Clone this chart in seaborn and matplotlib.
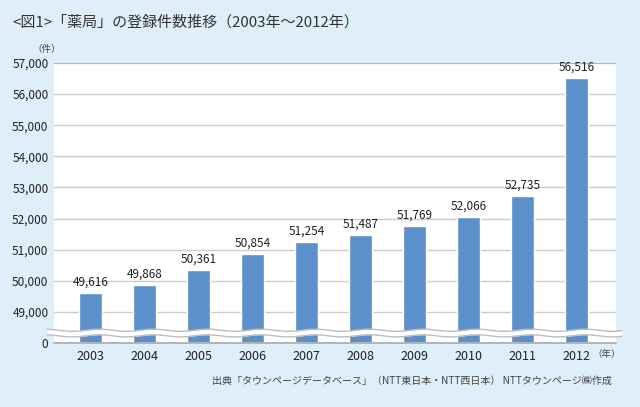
import numpy as np
import pandas as pd
import matplotlib
matplotlib.use("Agg")
import matplotlib.pyplot as plt
import seaborn as sns

# ---- data ----
years = ["2003", "2004", "2005", "2006", "2007", "2008", "2009", "2010", "2011", "2012"]
counts = [49616, 49868, 50361, 50854, 51254, 51487, 51769, 52066, 52735, 56516]
tick_values = [0, 49000, 50000, 51000, 52000, 53000, 54000, 55000, 56000, 57000]
break_base = 48000  # value placed at the axis bottom (axis break between 0 and 49,000)

title = "<図1>「薬局」の登録件数推移（2003年～2012年）"
source = "出典「タウンページデータベース」（NTT東日本・NTT西日本） NTTタウンページ㈱作成"

bg = "#DEEFFA"
bar_color = "#5B90CB"
grid_color = "#CDCDCD"
text_color = "#222222"

sns.set_theme(style="white")
plt.rcParams["font.family"] = ["Noto Sans CJK JP", "DejaVu Sans"]

df = pd.DataFrame({"year": years, "count": counts})
df["plot"] = df["count"] - break_base

fig = plt.figure(figsize=(6.4, 4.07), dpi=100, facecolor=bg)
ax = fig.add_axes([54 / 640, 1 - 343 / 407, (616 - 54) / 640, 280 / 407])
ax.set_facecolor("white")

sns.barplot(data=df, x="year", y="plot", color=bar_color, width=0.43,
            saturation=1, ax=ax, zorder=3)

ax.set_xlim(-0.68, 9.73)
ax.set_ylim(0, tick_values[-1] - break_base)
tick_pos = [0] + [v - break_base for v in tick_values[1:]]
ax.set_yticks(tick_pos)
ax.set_yticklabels([f"{v:,}" for v in tick_values])
ax.set_xlabel("")
ax.set_ylabel("")
for s in ax.spines.values():
    s.set_visible(False)

ax.tick_params(axis="y", length=0, pad=4, labelsize=8.5, labelcolor=text_color)
ax.tick_params(axis="x", length=0, pad=5, labelsize=9, labelcolor=text_color)

for p in tick_pos[1:-1]:
    ax.axhline(p, color=grid_color, lw=1, zorder=1)
ax.axhline(tick_pos[-1], color="#B4B4B4", lw=1.6, zorder=1)
ax.axhline(0, color="#B4B4B4", lw=1.4, zorder=5, clip_on=False)

ax.bar_label(ax.containers[0], labels=[f"{v:,}" for v in counts],
             padding=3, fontsize=8.5, color=text_color)

# axis break band
xs = np.linspace(-0.81, 9.84, 800)
yc = 320 + 35 * np.sin(2 * np.pi * xs / 1.0 + 0.6)
ax.fill_between(xs, yc - 90, yc + 90, color="white", zorder=6, clip_on=False, lw=0)
ax.plot(xs, yc + 90, color="#BDBDBD", lw=1, zorder=7, clip_on=False)
ax.plot(xs, yc - 90, color="#BDBDBD", lw=1, zorder=7, clip_on=False)

fig.text(12 / 640, 1 - 22 / 407, title, fontsize=10.8, color="#333333",
         ha="left", va="center")
fig.text(47 / 640, 1 - 49 / 407, "（件）", fontsize=6.8, color="#444444",
         ha="center", va="center")
fig.text(607 / 640, 1 - 354 / 407, "（年）", fontsize=6.8, color="#444444",
         ha="center", va="center")
fig.text(612 / 640, 1 - 381 / 407, source, fontsize=7.2, color="#444444",
         ha="right", va="center")

fig.savefig("out.png", dpi=100, facecolor=bg)
